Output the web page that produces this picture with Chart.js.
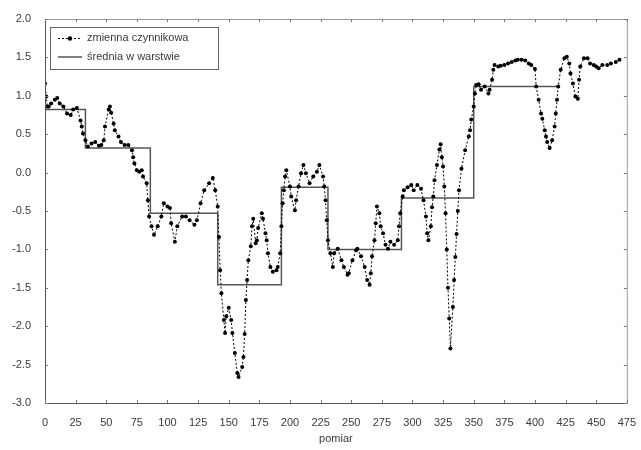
<!DOCTYPE html>
<html lang="pl">
<head>
<meta charset="utf-8">
<title>zmienna czynnikowa</title>
<script src="https://cdn.jsdelivr.net/npm/chart.js@4.4.1/dist/chart.umd.min.js"></script>
<style>
  html, body { margin: 0; padding: 0; background: #fff; }
  #wrap { width: 641px; height: 450px; }
</style>
</head>
<body>
<div id="wrap"><canvas id="wykres" width="641" height="450"></canvas></div>
<script>
// numer pomiaru i wartość zmiennej
const pomiar = [
  0, 1, 2, 3, 5, 8, 10, 12, 15, 18, 21, 23, 26, 29, 30, 31, 33, 35, 38, 41,
  44, 46, 48, 49, 52, 53, 54, 56, 57, 60, 62, 65, 68, 71, 72, 73, 75, 77, 79, 80,
  83, 84, 85, 87, 89, 92, 95, 97, 100, 102, 103, 106, 108, 112, 115, 118, 122, 124, 127, 130,
  134, 137, 139, 141, 142, 143, 144, 146, 147, 148, 150, 152, 153, 155, 157, 158, 161, 162, 163, 164,
  165, 166, 168, 169, 170, 172, 173, 174, 177, 178, 180, 181, 182, 184, 186, 189, 190, 192, 193, 194,
  195, 196, 197, 200, 201, 204, 205, 207, 209, 211, 213, 216, 219, 222, 224, 227, 228, 229, 230, 231,
  233, 235, 236, 239, 242, 244, 247, 248, 251, 254, 255, 258, 261, 263, 265, 266, 267, 269, 270, 271,
  273, 274, 276, 278, 280, 282, 285, 288, 289, 290, 292, 293, 296, 299, 301, 304, 307, 309, 311, 312,
  313, 315, 316, 317, 318, 320, 322, 323, 324, 325, 326, 327, 328, 329, 330, 331, 333, 334, 335, 336,
  337, 338, 340, 343, 346, 347, 348, 350, 351, 352, 354, 356, 359, 362, 363, 365, 366, 367, 370, 372,
  375, 378, 381, 384, 386, 389, 392, 395, 397, 400, 401, 403, 405, 406, 408, 409, 410, 412, 414, 416,
  417, 418, 419, 421, 424, 426, 428, 429, 431, 433, 435, 436, 437, 440, 443, 445, 448, 450, 452, 455,
  459, 462, 466, 469
];
const zmienna = [
  1.16, 0.99, 0.86, 0.86, 0.90, 0.95, 0.97, 0.90, 0.86, 0.77, 0.75, 0.82, 0.84, 0.68, 0.60, 0.51, 0.42, 0.34, 0.38, 0.40,
  0.35, 0.36, 0.42, 0.60, 0.82, 0.86, 0.78, 0.64, 0.55, 0.47, 0.40, 0.36, 0.36, 0.29, 0.20, 0.12, 0.03, 0.01, 0.03, -0.05,
  -0.14, -0.36, -0.57, -0.70, -0.81, -0.70, -0.57, -0.40, -0.44, -0.46, -0.66, -0.90, -0.70, -0.57, -0.57, -0.62, -0.68, -0.62, -0.40, -0.23,
  -0.14, -0.07, -0.23, -0.44, -0.84, -1.27, -1.57, -1.92, -2.09, -1.87, -1.76, -1.92, -2.09, -2.35, -2.61, -2.66, -2.53, -2.40, -2.10, -1.66,
  -1.40, -1.14, -0.96, -0.70, -0.60, -0.92, -0.88, -0.72, -0.53, -0.60, -0.79, -0.88, -1.05, -1.23, -1.29, -1.27, -1.23, -1.05, -0.70, -0.40,
  -0.23, -0.05, 0.03, -0.18, -0.31, -0.49, -0.36, -0.18, -0.01, 0.10, -0.01, -0.14, -0.05, 0.01, 0.10, -0.05, -0.18, -0.36, -0.62, -0.88,
  -1.05, -1.23, -1.05, -0.99, -1.14, -1.23, -1.33, -1.31, -1.14, -1.01, -0.99, -1.09, -1.23, -1.40, -1.46, -1.31, -1.09, -0.88, -0.66, -0.44,
  -0.53, -0.70, -0.79, -0.94, -0.99, -0.90, -0.94, -0.88, -0.70, -0.53, -0.31, -0.23, -0.19, -0.16, -0.23, -0.16, -0.21, -0.36, -0.57, -0.79,
  -0.88, -0.70, -0.45, -0.31, -0.10, 0.10, 0.30, 0.37, 0.20, 0.08, -0.18, -0.53, -1.00, -1.50, -1.90, -2.29, -1.75, -1.40, -1.10, -0.80,
  -0.50, -0.23, 0.05, 0.29, 0.47, 0.55, 0.69, 0.86, 1.03, 1.14, 1.15, 1.08, 1.12, 1.03, 1.08, 1.21, 1.34, 1.40, 1.38, 1.39,
  1.40, 1.42, 1.44, 1.46, 1.47, 1.47, 1.46, 1.42, 1.40, 1.35, 1.12, 0.95, 0.77, 0.70, 0.55, 0.47, 0.40, 0.32, 0.42, 0.60,
  0.77, 0.95, 1.12, 1.34, 1.49, 1.51, 1.42, 1.29, 1.16, 0.99, 0.96, 1.21, 1.38, 1.49, 1.49, 1.42, 1.40, 1.38, 1.36, 1.40,
  1.40, 1.42, 1.44, 1.47
];

// granice warstw i średnie w warstwach
const granice = [0, 33, 86, 141, 193, 231, 291, 350, 419];
const srednie = [0.82, 0.32, -0.53, -1.46, -0.19, -1.00, -0.33, 1.12];

const ticksX = [0, 25, 50, 75, 100, 125, 150, 175, 200, 225, 250, 275, 300, 325, 350, 375, 400, 425, 450, 475];
const ticksY = [-3.0, -2.5, -2.0, -1.5, -1.0, -0.5, 0.0, 0.5, 1.0, 1.5, 2.0];

const etykiety = ["zmienna czynnikowa", "średnia w warstwie"];

const kolorTekstu = "#3a3a3a";
const czcionka = { family: "'Liberation Sans', Arial, sans-serif", size: 11 };

const punkty = pomiar.map((p, i) => ({ x: p, y: zmienna[i] }));
// każdy punkt schodka niesie średnią warstwy, która się przed nim kończy
const schodki = granice.map((g, i) => ({ x: g, y: srednie[Math.max(i - 1, 0)] }));

// ramka wykresu i krótkie znaczniki do środka
const ramka = {
  id: "ramka",
  afterDatasetsDraw(chart) {
    const { ctx, chartArea: a, scales } = chart;
    ctx.save();
    ctx.lineWidth = 1;
    ctx.strokeStyle = "#9a9a9a";
    ctx.strokeRect(a.left + 0.5, a.top + 0.5, a.right - a.left, a.bottom - a.top);
    ctx.strokeStyle = "#555";
    ctx.beginPath();
    ctx.moveTo(a.left + 0.5, a.top);
    ctx.lineTo(a.left + 0.5, a.bottom + 0.5);
    ctx.lineTo(a.right, a.bottom + 0.5);
    ctx.stroke();

    ctx.strokeStyle = "#777";
    ctx.beginPath();
    ticksX.forEach((t) => {
      const x = Math.round(scales.x.getPixelForValue(t)) + 0.5;
      ctx.moveTo(x, a.bottom);
      ctx.lineTo(x, a.bottom - 3);
      ctx.moveTo(x, a.top);
      ctx.lineTo(x, a.top + 3);
    });
    ticksY.forEach((t) => {
      const y = Math.round(scales.y.getPixelForValue(t)) + 0.5;
      ctx.moveTo(a.left, y);
      ctx.lineTo(a.left + 3, y);
      ctx.moveTo(a.right, y);
      ctx.lineTo(a.right - 3, y);
    });
    ctx.stroke();
    ctx.restore();
  },
  afterDraw(chart) {
    // legenda w lewym górnym rogu
    const { ctx, chartArea: a } = chart;
    const x0 = a.left + 5, y0 = a.top + 8, w = 168, h = 42;
    ctx.save();
    ctx.fillStyle = "#fff";
    ctx.fillRect(x0, y0, w, h);
    ctx.strokeStyle = "#666";
    ctx.lineWidth = 1;
    ctx.strokeRect(x0 + 0.5, y0 + 0.5, w, h);

    const r1 = y0 + 11, r2 = y0 + 30;
    ctx.strokeStyle = "#000";
    ctx.setLineDash([2, 2]);
    ctx.beginPath();
    ctx.moveTo(x0 + 8, r1 + 0.5);
    ctx.lineTo(x0 + 32, r1 + 0.5);
    ctx.stroke();
    ctx.setLineDash([]);
    ctx.fillStyle = "#000";
    ctx.beginPath();
    ctx.arc(x0 + 20, r1 + 0.5, 2.2, 0, Math.PI * 2);
    ctx.fill();

    ctx.strokeStyle = "#555";
    ctx.lineWidth = 1.5;
    ctx.beginPath();
    ctx.moveTo(x0 + 8, r2);
    ctx.lineTo(x0 + 32, r2);
    ctx.stroke();

    ctx.fillStyle = kolorTekstu;
    ctx.font = `${czcionka.size}px ${czcionka.family}`;
    ctx.textBaseline = "middle";
    ctx.fillText(etykiety[0], x0 + 37, r1);
    ctx.fillText(etykiety[1], x0 + 37, r2);
    ctx.restore();
  },
};

Chart.defaults.font = czcionka;
Chart.defaults.color = kolorTekstu;

new Chart(document.getElementById("wykres"), {
  type: "line",
  data: {
    datasets: [
      {
        label: etykiety[0],
        data: punkty,
        borderColor: "#000",
        borderWidth: 1,
        borderDash: [2, 2],
        pointRadius: 2,
        pointBackgroundColor: "#000",
        pointBorderWidth: 0,
        tension: 0,
      },
      {
        label: etykiety[1],
        data: schodki,
        stepped: "after",
        borderColor: "#555",
        borderWidth: 1.5,
        pointRadius: 0,
      },
    ],
  },
  options: {
    responsive: false,
    animation: false,
    layout: { padding: { top: 19, right: 11, left: 0, bottom: 0 } },
    scales: {
      x: {
        type: "linear",
        min: 0,
        max: 475,
        grid: { display: false },
        border: { display: false },
        afterBuildTicks: (s) => { s.ticks = ticksX.map((v) => ({ value: v })); },
        afterFit: (s) => { s.height = 47; },
        ticks: { padding: 5, maxRotation: 0, autoSkip: false },
        title: { display: true, text: "pomiar", padding: { top: 2, bottom: 4 } },
      },
      y: {
        min: -3,
        max: 2,
        grid: { display: false },
        border: { display: false },
        afterBuildTicks: (s) => { s.ticks = ticksY.map((v) => ({ value: v })); },
        afterFit: (s) => { s.width = 45; },
        ticks: { padding: 6, callback: (v) => Number(v).toFixed(1) },
      },
    },
    plugins: {
      legend: { display: false },
      tooltip: { enabled: false },
    },
  },
  plugins: [ramka],
});
</script>
</body>
</html>
